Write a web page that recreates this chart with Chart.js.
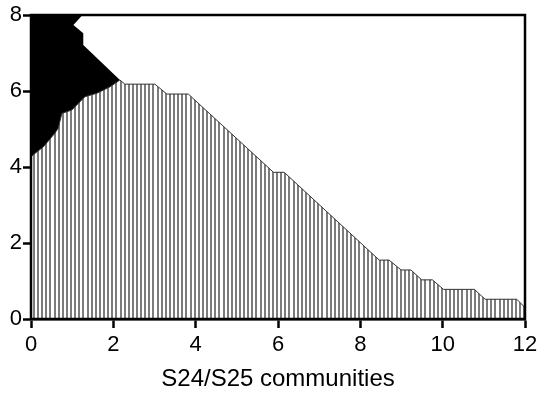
<!DOCTYPE html>
<html><head><meta charset="utf-8">
<script src="https://cdn.jsdelivr.net/npm/chart.js@4"></script>
<style>html,body{margin:0;padding:0;background:#fff}canvas{display:block}</style>
</head><body>
<canvas id="c" width="545" height="399"></canvas>
<script>
const xTitle = 'S24/S25 communities';
const xTicks = [0, 2, 4, 6, 8, 10, 12];
const yTicks = [0, 2, 4, 6, 8];

// upper edge of the vertically hatched area
const shadedX = [0, 0.1, 0.3, 0.58, 0.66, 0.75, 0.99, 1.11, 1.31, 1.6, 1.92, 2.16, 2.28, 3.01, 3.3, 3.82, 5.89, 6.15, 8.46, 8.7, 8.99, 9.23, 9.49, 9.75, 10.02, 10.77, 11.03, 11.8, 12];
const shadedY = [4.27, 4.36, 4.53, 4.89, 5.02, 5.41, 5.5, 5.63, 5.85, 5.94, 6.11, 6.29, 6.18, 6.18, 5.92, 5.92, 3.86, 3.86, 1.55, 1.55, 1.29, 1.29, 1.03, 1.03, 0.78, 0.78, 0.52, 0.52, 0.3];

// outline of the black area (upper/right boundary)
const blackX = [0, 1.25, 1.03, 1.27, 1.27, 2.16];
const blackY = [8, 8, 7.74, 7.52, 7.21, 6.29];

const ctx = document.getElementById('c').getContext('2d');
function makePattern() {
  const p = document.createElement('canvas');
  p.width = 412; p.height = 4;
  const g = p.getContext('2d');
  g.fillStyle = '#ffffff'; g.fillRect(0, 0, p.width, 4);
  g.fillStyle = '#7c7c7c';
  for (let i = 0; i < 100; i++) g.fillRect(Math.round(i * 4.12), 0, 2, 4);
  const pat = ctx.createPattern(p, 'repeat');
  if (pat.setTransform) pat.setTransform(new DOMMatrix().translate(33, 0));
  return pat;
}
const toPts = (xs, ys) => xs.map((x, i) => ({x, y: ys[i]}));

const boxPlugin = {
  id: 'box',
  afterDatasetsDraw(chart) {
    const {ctx, chartArea: a} = chart;
    ctx.save();
    ctx.strokeStyle = '#000';
    ctx.lineWidth = 2.5;
    ctx.strokeRect(a.left, a.top, a.right - a.left, a.bottom - a.top);
    ctx.restore();
  }
};

const font = 'Liberation Sans, Arial, sans-serif';
new Chart(ctx, {
  type: 'line',
  data: {
    datasets: [
      {
        data: toPts(shadedX, shadedY),
        borderColor: '#333',
        borderWidth: 1,
        backgroundColor: makePattern(),
        fill: 'origin',
        pointRadius: 0,
        tension: 0
      },
      {
        data: toPts(blackX, blackY),
        borderColor: '#000',
        borderWidth: 0,
        backgroundColor: '#000',
        fill: 'origin',
        pointRadius: 0,
        tension: 0
      }
    ]
  },
  options: {
    responsive: false,
    animation: false,
    devicePixelRatio: 1,
    parsing: false,
    layout: {padding: {top: 15, right: 20, left: 0, bottom: 0}},
    plugins: {legend: {display: false}, tooltip: {enabled: false}},
    scales: {
      x: {
        type: 'linear', min: 0, max: 12,
        afterBuildTicks: s => { s.ticks = xTicks.map(v => ({value: v})); },
        afterFit: s => { s.height = 80; },
        grid: {drawOnChartArea: false, drawTicks: true, tickLength: 9, tickWidth: 2.5, tickColor: '#000'},
        border: {display: true, color: '#000', width: 2.5},
        ticks: {color: '#000', font: {family: font, size: 22}, padding: 4, maxRotation: 0, autoSkip: false},
        title: {display: true, text: xTitle, color: '#000', font: {family: font, size: 24}, padding: {top: 0, bottom: 5}}
      },
      y: {
        type: 'linear', min: 0, max: 8,
        afterBuildTicks: s => { s.ticks = yTicks.map(v => ({value: v})); },
        afterFit: s => { s.width = 31; },
        grid: {drawOnChartArea: false, drawTicks: true, tickLength: 8, tickWidth: 2.5, tickColor: '#000'},
        border: {display: true, color: '#000', width: 2.5},
        ticks: {color: '#000', font: {family: font, size: 22}, padding: 1, autoSkip: false}
      }
    }
  },
  plugins: [boxPlugin]
});
</script>
</body></html>
